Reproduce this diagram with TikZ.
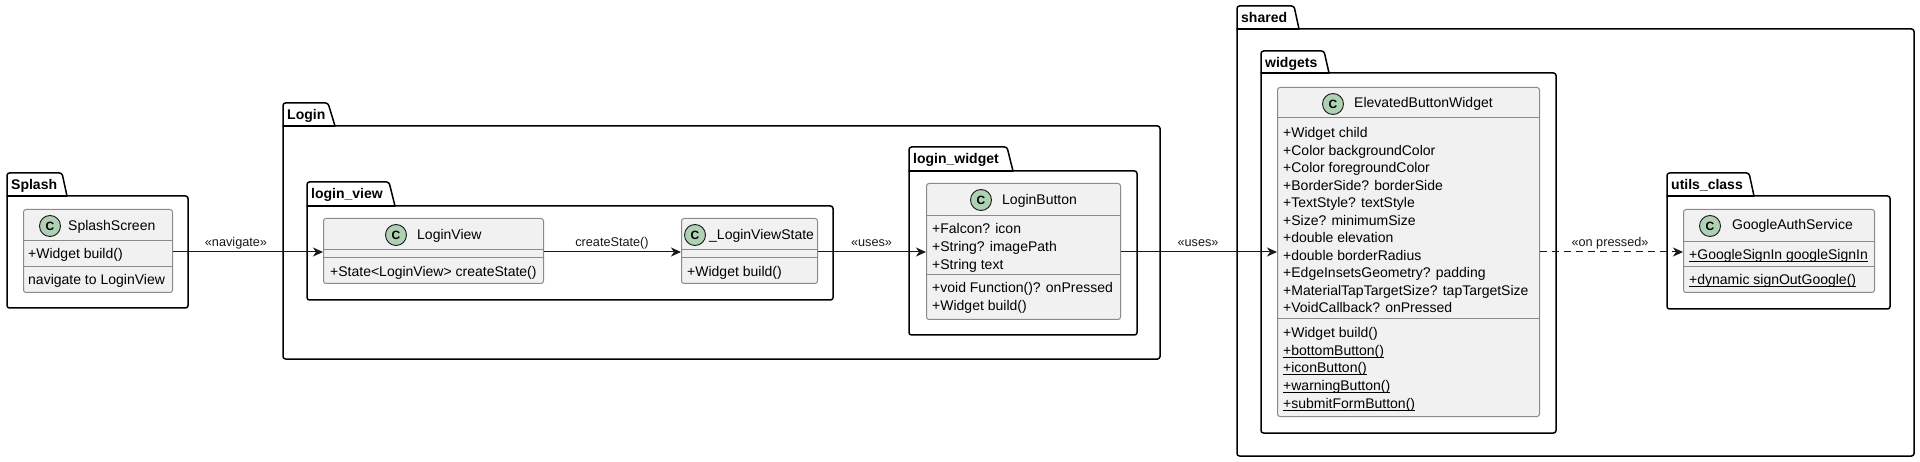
\documentclass[tikz,border=0pt]{standalone}
\usepackage{fontspec}
\setmainfont{Liberation Sans}
\usetikzlibrary{arrows.meta}
\definecolor{clsfill}{HTML}{F1F1F1}
\definecolor{clsline}{HTML}{8A8A8A}
\definecolor{circfill}{HTML}{ADD1B2}
\definecolor{ink}{HTML}{181818}
\newcommand\fsz[1]{\fontsize{#1pt}{#1pt}\selectfont}
\newcommand\ulx[1]{\setbox0\hbox{#1}\rlap{\rule[-2.2pt]{\wd0}{0.8pt}}\box0}
% #1 name, #2 x1, #3 tab top, #4 tab top-right x, #5 tab bottom-right x, #6 body top, #7 x2, #8 y2, #9 label
\newcommand\pkgbox[9]{%
  \draw[pkgline, rounded corners=2.5pt] (#5,#6) -- (#7,#6) -- (#7,#8) -- (#2,#8) -- (#2,#3) -- (#4,#3) -- (#5,#6);
  \draw[pkgline] (#2,#6) -- (#5,#6);
  \node[pkglabel] (#1) at (#2+4,#3+17) {#9};
}
\newcommand\sepl[2]{\draw[sepline] (#1.west |- 0,#2) -- (#1.east |- 0,#2);}
\begin{document}
\begin{tikzpicture}[x=1pt,y=-1pt,
  pkgline/.style={draw=black, line width=1.5pt, line cap=round, line join=round},
  pkglabel/.style={anchor=base west, inner sep=0pt, font=\bfseries\fsz{14}},
  classbox/.style={draw=clsline, fill=clsfill, line width=1pt, rounded corners=2.5pt, inner sep=0pt, anchor=north west},
  sepline/.style={draw=clsline, line width=1pt},
  circ/.style={circle, draw=ink, fill=circfill, line width=0.9pt, minimum size=21pt, inner sep=0pt, font=\bfseries\fsz{12}},
  txt/.style={anchor=base west, inner sep=0pt, font=\fsz{14}},
  elabel/.style={anchor=base, inner sep=0pt, font=\fsz{12.7}, text=ink},
  arr/.style={draw=ink, line width=1pt, -{Stealth[length=10pt, width=9pt, inset=3pt]}}
]
\useasboundingbox (0,0) rectangle (1920,462);

% ---------- packages ----------
\pkgbox{pSplash}{7}{173}{62}{67}{196}{188}{308}{Splash}
\pkgbox{pLogin}{283}{103}{328}{335}{126}{1160}{359}{Login}
\pkgbox{pLoginView}{307}{182}{389}{395}{206}{833}{300}{login\_view}
\pkgbox{pLoginWidget}{909}{147}{1007}{1013}{171}{1137}{335}{login\_widget}
\pkgbox{pShared}{1237}{6}{1294}{1299}{29}{1914}{456}{shared}
\pkgbox{pWidgets}{1261}{51}{1324}{1329}{73}{1556}{433}{widgets}
\pkgbox{pUtils}{1667}{173}{1749}{1754}{196}{1890}{309}{utils\_class}

% ---------- SplashScreen ----------
\node[classbox, minimum width=149pt, minimum height=83pt] (splash) at (23,209) {};
\sepl{splash}{241}
\sepl{splash}{267}
\node[circ] (splashC) at (50,226) {C};
\node[txt] (splashT) at (68,231) {SplashScreen};
\node[txt] (splashM1) at (28,259) {+Widget build()};
\node[txt] (splashM2) at (28,285) {navigate to LoginView};

% ---------- LoginView ----------
\node[classbox, minimum width=220pt, minimum height=65pt] (loginview) at (323,218) {};
\sepl{loginview}{250}
\sepl{loginview}{258}
\node[circ] (loginviewC) at (396,235) {C};
\node[txt] (loginviewT) at (417,240) {LoginView};
\node[txt] (loginviewM1) at (330,277) {+State<LoginView> createState()};

% ---------- _LoginViewState ----------
\node[classbox, minimum width=136pt, minimum height=65pt] (lvstate) at (681,218) {};
\sepl{lvstate}{250}
\sepl{lvstate}{258}
\node[circ] (lvstateC) at (695,235) {C};
\node[txt] (lvstateT) at (709,240) {\_LoginViewState};
\node[txt] (lvstateM1) at (687,277) {+Widget build()};

% ---------- LoginButton ----------
\node[classbox, minimum width=194pt, minimum height=136pt] (loginbutton) at (926,183) {};
\sepl{loginbutton}{216}
\sepl{loginbutton}{275}
\node[circ] (loginbuttonC) at (981,200) {C};
\node[txt] (loginbuttonT) at (1002,205) {LoginButton};
\node[txt] (lbA1) at (932,234) {+Falcon? icon};
\node[txt] (lbA2) at (932,251.6) {+String? imagePath};
\node[txt] (lbA3) at (932,269.2) {+String text};
\node[txt] (lbM1) at (932,293) {+void Function()? onPressed};
\node[txt] (lbM2) at (932,310.6) {+Widget build()};

% ---------- ElevatedButtonWidget ----------
\node[classbox, minimum width=262pt, minimum height=329pt] (elevated) at (1277,87) {};
\sepl{elevated}{118}
\sepl{elevated}{319}
\node[circ] (elevatedC) at (1333,104) {C};
\node[txt] (elevatedT) at (1354,108) {ElevatedButtonWidget};
\node[txt] (ebA1) at (1283,137.5) {+Widget child};
\node[txt] (ebA2) at (1283,155.05) {+Color backgroundColor};
\node[txt] (ebA3) at (1283,172.6) {+Color foregroundColor};
\node[txt] (ebA4) at (1283,190.15) {+BorderSide? borderSide};
\node[txt] (ebA5) at (1283,207.7) {+TextStyle? textStyle};
\node[txt] (ebA6) at (1283,225.25) {+Size? minimumSize};
\node[txt] (ebA7) at (1283,242.8) {+double elevation};
\node[txt] (ebA8) at (1283,260.35) {+double borderRadius};
\node[txt] (ebA9) at (1283,277.9) {+EdgeInsetsGeometry? padding};
\node[txt] (ebA10) at (1283,295.45) {+MaterialTapTargetSize? tapTargetSize};
\node[txt] (ebA11) at (1283,313) {+VoidCallback? onPressed};
\node[txt] (ebM1) at (1283,337.5) {+Widget build()};
\node[txt] (ebM2) at (1283,355.2) {\ulx{+bottomButton()}};
\node[txt] (ebM3) at (1283,372.9) {\ulx{+iconButton()}};
\node[txt] (ebM4) at (1283,390.6) {\ulx{+warningButton()}};
\node[txt] (ebM5) at (1283,408.3) {\ulx{+submitFormButton()}};

% ---------- GoogleAuthService ----------
\node[classbox, minimum width=191pt, minimum height=83pt] (google) at (1683,209) {};
\sepl{google}{242}
\sepl{google}{267}
\node[circ] (googleC) at (1710,226) {C};
\node[txt] (googleT) at (1732,230) {GoogleAuthService};
\node[txt] (gA1) at (1689,260) {\ulx{+GoogleSignIn googleSignIn}};
\node[txt] (gM1) at (1689,285) {\ulx{+dynamic signOutGoogle()}};

% ---------- connectors ----------
\coordinate (lineY) at (0,252);
\draw[arr] (splash.east |- lineY) -- (loginview.west |- lineY);
\draw[arr] (loginview.east |- lineY) -- (lvstate.west |- lineY);
\draw[arr] (lvstate.east |- lineY) -- (loginbutton.west |- lineY);
\draw[arr] (loginbutton.east |- lineY) -- (elevated.west |- lineY);
\draw[arr, dash pattern=on 7pt off 5pt] (elevated.east |- lineY) -- (google.west |- lineY);

\node[elabel] (lNav) at (236,246.5) {«navigate»};
\node[elabel] (lCreate) at (612,246.5) {createState()};
\node[elabel] (lUses1) at (871.5,246.5) {«uses»};
\node[elabel] (lUses2) at (1198,246.5) {«uses»};
\node[elabel] (lPressed) at (1610,246.5) {«on pressed»};
\end{tikzpicture}
\end{document}
